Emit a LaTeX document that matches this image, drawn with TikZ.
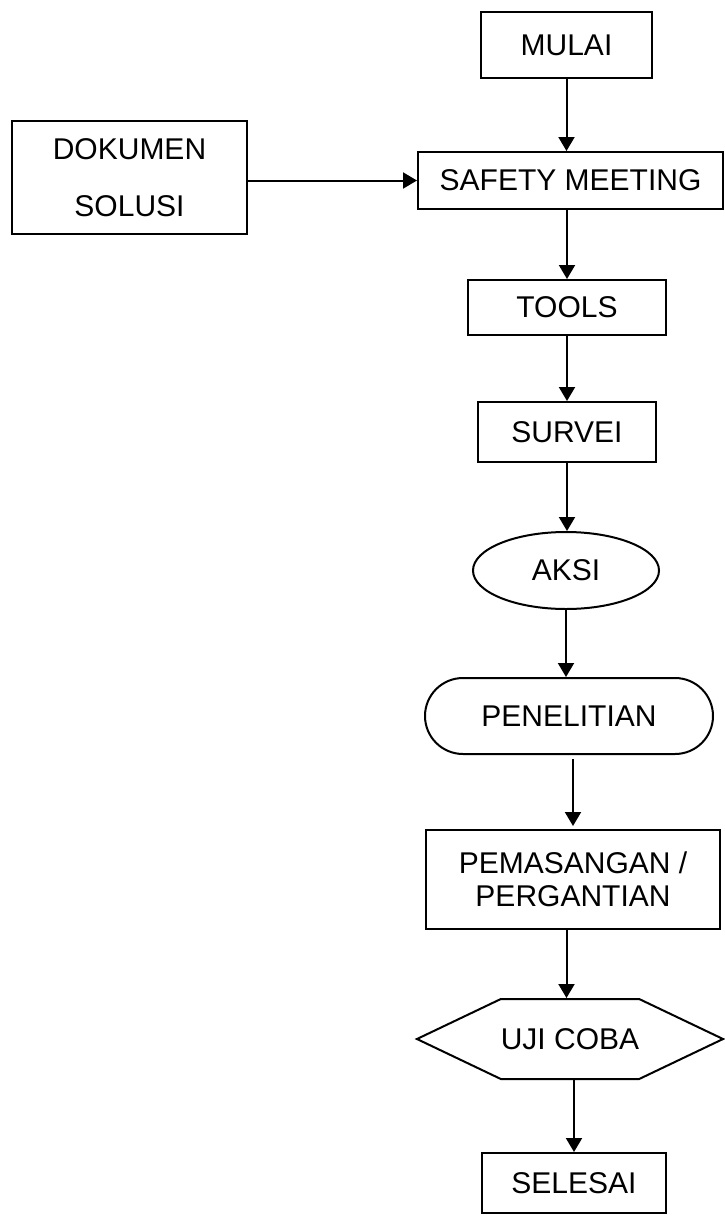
\documentclass[tikz,border=0pt]{standalone}
\usepackage{fontspec}
\setmainfont{Liberation Sans}
\usetikzlibrary{arrows.meta,shapes.geometric,shapes.symbols}
\begin{document}
\begin{tikzpicture}[x=.5pt,y=-.5pt,>={Triangle[length=7pt,width=8pt]},line width=1pt,
  kotak/.style={draw,inner sep=0pt,align=center,font=\fontsize{15}{16.5}\selectfont}]
\useasboundingbox (0,0) rectangle (724,1216);
\node[kotak,minimum width=85.5pt,minimum height=33pt] (mulai) at (566.5,45) {MULAI};
\node[kotak,minimum width=152.5pt,minimum height=28.5pt] (safety) at (570.5,180.5) {SAFETY MEETING};
\node[kotak,minimum width=117.5pt,minimum height=56.5pt] (dokumen) at (129.5,177.5) {DOKUMEN\\[12pt]SOLUSI};
\node[kotak,minimum width=99pt,minimum height=27.5pt] (tools) at (567,307.5) {TOOLS};
\node[kotak,minimum width=89pt,minimum height=30pt] (survei) at (567,432) {SURVEI};
\node[kotak,ellipse,minimum width=93pt,minimum height=38.5pt] (aksi) at (566,570.5) {AKSI};
\node[kotak,rounded corners=19pt,minimum width=144pt,minimum height=38pt] (penelitian) at (569,716) {PENELITIAN};
\node[kotak,minimum width=147pt,minimum height=49.5pt] (pemasangan) at (573,879.5) {PEMASANGAN /\\PERGANTIAN};
\node[kotak,signal,signal to=west and east,signal pointer angle=51,minimum width=152pt,minimum height=40pt] (ujicoba) at (570,1039) {UJI COBA};
\node[kotak,minimum width=92pt,minimum height=30pt] (selesai) at (574,1183) {SELESAI};
\draw[->] (mulai) -- (mulai |- safety.north);
\draw[->] (dokumen.east |- safety) -- (safety.west);
\draw[->] (safety.south -| tools) -- (tools.north);
\draw[->] (tools) -- (survei);
\draw[->] (survei.south) -- (survei.south |- aksi.north);
\draw[->] (aksi.south) -- (aksi.south |- penelitian.north);
\draw[->] ([yshift=-2pt]penelitian.south -| pemasangan) -- ([yshift=1.5pt]pemasangan.north);
\draw[->] (pemasangan.south -| mulai) -- (ujicoba.north -| mulai);
\draw[->] (ujicoba.south -| selesai) -- (selesai.north);
\end{tikzpicture}
\end{document}
